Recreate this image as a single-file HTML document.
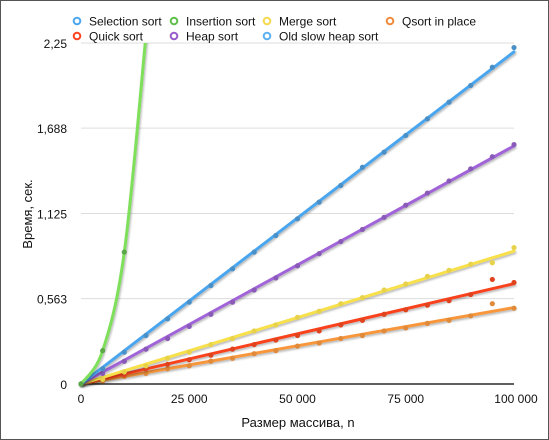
<!DOCTYPE html>
<html><head><meta charset="utf-8"><style>
html,body{margin:0;padding:0;background:#fff;}
#wrap{position:relative;width:547px;height:438px;border:1px solid #555;overflow:hidden;}
svg text{font-family:"Liberation Sans",sans-serif;fill:#111;}
</style></head><body>
<div id="wrap">
<svg id="chart" width="547" height="438"></svg>
</div>
<script>
const xValues=[0,5000,10000,15000,20000,25000,30000,35000,40000,45000,50000,55000,60000,65000,70000,75000,80000,85000,90000,95000,100000];
const selectionSort=[0,0.10,0.21,0.32,0.43,0.54,0.65,0.76,0.87,0.98,1.09,1.20,1.31,1.43,1.53,1.64,1.75,1.86,1.97,2.09,2.22];
const heapSort=[0,0.07,0.15,0.23,0.30,0.38,0.46,0.54,0.62,0.70,0.78,0.86,0.94,1.02,1.10,1.18,1.26,1.34,1.42,1.50,1.58];
const mergeSort=[0,0.03,0.08,0.12,0.17,0.21,0.26,0.30,0.35,0.39,0.44,0.48,0.53,0.57,0.62,0.66,0.71,0.75,0.79,0.80,0.90];
const quickSort=[0,0.03,0.06,0.10,0.13,0.16,0.19,0.23,0.26,0.29,0.32,0.35,0.39,0.42,0.46,0.49,0.52,0.55,0.59,0.69,0.67];
const qsortInPlace=[0,0.02,0.05,0.07,0.10,0.12,0.15,0.17,0.20,0.22,0.25,0.27,0.30,0.32,0.35,0.37,0.40,0.42,0.45,0.53,0.50];
const insertionX=[0,5000,10000,15000,20000];
const insertionSort=[0,0.22,0.87,2.3,3.9];
const yTicks=[0,0.563,1.125,1.688,2.25];
const yTickLabels=["0","0,563","1,125","1,688","2,25"];
const xTicks=[0,25000,50000,75000,100000];
const xTickLabels=["0","25 000","50 000","75 000","100 000"];

const NS="http://www.w3.org/2000/svg";
const svg=document.getElementById('chart');
const X0=80,X1=513,Y0=383,Y1=42;
const xs=v=>X0+(v/100000)*(X1-X0);
const ys=v=>Y0-(v/2.25)*(Y0-Y1);
function mk(tag,attrs,parent){const e=document.createElementNS(NS,tag);for(const k in attrs)e.setAttribute(k,attrs[k]);(parent||svg).appendChild(e);return e;}
const defs=mk('defs',{});
const cp=mk('clipPath',{id:'pc'},defs);
mk('rect',{x:X0-5,y:Y1,width:X1-X0+12,height:Y0-Y1+5},cp);
const f=mk('filter',{id:'sh',x:'-10%',y:'-10%',width:'130%',height:'130%'},defs);
mk('feDropShadow',{dx:1,dy:1.5,stdDeviation:1,'flood-opacity':0.3},f);

yTicks.forEach((v,i)=>{
  if(i>0){const g=mk('line',{x1:X0,x2:X1,y1:ys(v),y2:ys(v),stroke:'#ddd','stroke-width':1});
  
  }
  const t=mk('text',{x:66,y:ys(v)+5,'text-anchor':'end','font-size':12});t.textContent=yTickLabels[i];
  
  
});
xTicks.forEach((v,i)=>{
  const t=mk('text',{x:xs(v)+(i==4?2:0),y:402,'text-anchor':'middle','font-size':12});t.textContent=xTickLabels[i];
  
  
});
const ax=mk('line',{x1:X0,x2:X1,y1:Y0,y2:Y0,stroke:'#000','stroke-width':1.2});



const xt=mk('text',{x:297,y:426,'text-anchor':'middle','font-size':13});xt.textContent='Размер массива, n';


const yt=mk('text',{x:0,y:0,'text-anchor':'middle','font-size':13,transform:'translate(31,213) rotate(-90)'});yt.textContent='Время, сек.';



const plot=mk('g',{'clip-path':'url(#pc)'});
function fitLine(xv,yv){let sxy=0,sxx=0;xv.forEach((x,i)=>{sxy+=x*yv[i];sxx+=x*x;});return sxy/sxx;}
function series(name,xv,yv,lineColor,dotColor){
  const g=mk('g',{},plot);
  
  
  const k=fitLine(xv,yv);
  const ln=mk('line',{x1:xs(0),y1:ys(0),x2:xs(100000),y2:ys(k*100000),stroke:lineColor,'stroke-width':3,filter:'url(#sh)','stroke-linecap':'round'},g);
  
  
  xv.forEach((x,i)=>{const c=mk('circle',{cx:xs(x),cy:ys(yv[i]),r:2.6,fill:dotColor},g);
    
    });
}
series('qsort-in-place',xValues,qsortInPlace,'#f7963a','#e08a3a');
series('quick-sort',xValues,quickSort,'#f9421f','#e0441f');
series('merge-sort',xValues,mergeSort,'#f7e04a','#e8d24a');
series('heap-sort',xValues,heapSort,'#a064d8','#8a5ab8');
series('selection-sort',xValues,selectionSort,'#4aa6ee','#4a90c8');
(function(){
  const g=mk('g',{},plot);
  
  
  let d='M'+xs(insertionX[0])+','+ys(insertionSort[0]);
  for(let i=1;i<insertionX.length;i++){
    const p0=[xs(insertionX[Math.max(i-2,0)]),ys(insertionSort[Math.max(i-2,0)])];
    const p1=[xs(insertionX[i-1]),ys(insertionSort[i-1])];
    const p2=[xs(insertionX[i]),ys(insertionSort[i])];
    const p3=[xs(insertionX[Math.min(i+1,insertionX.length-1)]),ys(insertionSort[Math.min(i+1,insertionX.length-1)])];
    d+=' C'+(p1[0]+(p2[0]-p0[0])/6)+','+(p1[1]+(p2[1]-p0[1])/6)+' '+(p2[0]-(p3[0]-p1[0])/6)+','+(p2[1]-(p3[1]-p1[1])/6)+' '+p2[0]+','+p2[1];
  }
  const p=mk('path',{d:d,fill:'none',stroke:'#7ee05a','stroke-width':3,filter:'url(#sh)'},g);
  
  
  insertionX.forEach((x,i)=>{if(insertionSort[i]>2.25)return;const c=mk('circle',{cx:xs(x),cy:ys(insertionSort[i]),r:2.6,fill:'#5aa848'},g);
    
    });
})();

const legendNames=['Selection sort','Insertion sort','Merge sort','Qsort in place','Quick sort','Heap sort','Old slow heap sort'];
const legendColors=['#4aa6ee','#5cc048','#f7d84a','#f08a3a','#f9421f','#9a5cc8','#5ab0ee'];
const legendX=[76,173,266,389,76,173,266];
const legendY=[20,20,20,20,35,35,35];
legendNames.forEach((n,i)=>{
  const g=mk('g',{});
  
  
  mk('circle',{cx:legendX[i],cy:legendY[i],r:3.3,fill:'#fff',stroke:legendColors[i],'stroke-width':2},g);
  const t=mk('text',{x:legendX[i]+12,y:legendY[i]+4.5,'font-size':12},g);t.textContent=n;
});
</script>
</body></html>
